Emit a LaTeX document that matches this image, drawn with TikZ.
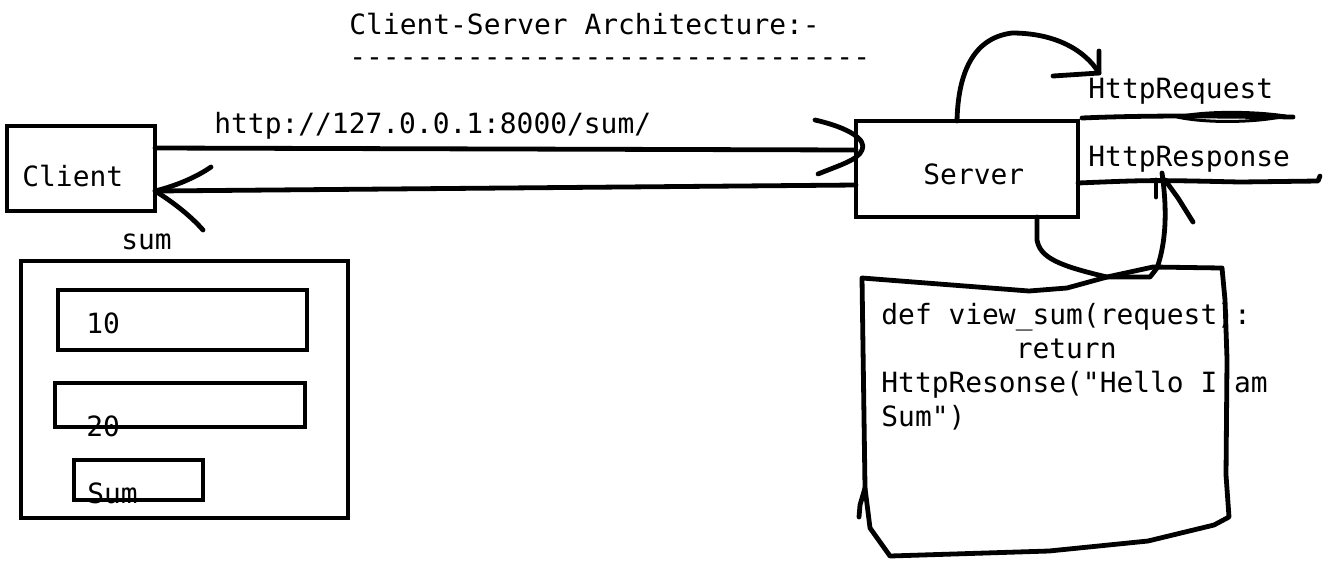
\documentclass[tikz,border=0pt]{standalone}
\usepackage{fontspec}
\setmonofont{DejaVu Sans Mono}
\usepackage{tikz}

\begin{document}
\begin{tikzpicture}[x=0.5pt,y=-0.5pt,line width=2.4pt,
  box/.style={draw,rectangle,inner sep=0pt,outer sep=0pt},
  txt/.style={font=\ttfamily\fontsize{13.95}{17}\selectfont,inner sep=0pt,anchor=base west},
  hand/.style={line cap=round,line join=round}]
\useasboundingbox (0,0) rectangle (1342,569);

% Title
\node[txt] (title) at (347,34) {Client-Server Architecture:-};
\node[txt] (rule) at (347,66) {-------------------------------};

% Client and server boxes
\node[box,minimum width=74pt,minimum height=42.5pt] (client) at (81,168.5) {};
\node[txt] (clientlbl) at (20,186) {Client};
\node[box,minimum width=111pt,minimum height=48pt] (server) at (967,169) {};
\node[txt] (serverlbl) at (921,184) {Server};

% Request
\node[txt] (url) at (212,133) {http://127.0.0.1:8000/sum/};
\draw[hand] ([yshift=10.25pt]client.east) -- ([yshift=9.5pt]server.west);
\draw[hand] (815,120) .. controls (850,128) and (867,140) .. (862,150) .. controls (858,160) and (840,165) .. (818,174);

% Response
\coordinate (backtip) at ([yshift=-11.25pt]client.east);
\draw[hand] ([yshift=-8pt]server.west) -- (backtip);
\draw[hand] (211,167) .. controls (195,178) and (175,186) .. (backtip) .. controls (170,200) and (190,215) .. (203,230);
\node[txt] (sumlbl) at (119,249) {sum};

% Form on the client
\draw (21,261) rectangle (348,518);
\draw (58,290) rectangle (307,350);
\node[txt] (num1) at (84,333) {10};
\draw (55,383) rectangle (305,427);
\node[txt] (num2) at (84,436) {20};
\draw (74,460) rectangle (203,500);
\node[txt] (sumbtn) at (85,503) {Sum};

% Loop to HttpRequest
\coordinate (reqtip) at (1099,73);
\draw[hand] ([xshift=-5pt]server.north) .. controls (958,75) and (972,38) .. (1012,33) .. controls (1055,33) and (1085,50) .. (reqtip);
\draw[hand] (1099,51) -- (reqtip) -- (1053,76);
\node[txt] (reqlbl) at (1086,98) {HttpRequest};
\draw[hand] (1082,118) .. controls (1150,115) and (1230,116) .. (1293,117);
\draw[hand,line width=1.5pt] (1177,117) .. controls (1210,110) and (1260,112) .. (1285,116) .. controls (1260,122) and (1210,124) .. (1177,117);

% HttpResponse
\node[txt] (resplbl) at (1086,166) {HttpResponse};
\draw[hand] ([yshift=-7pt]server.east) .. controls (1150,180) .. (1240,182) -- (1318,181) -- (1320,176);

% Loop from view to HttpResponse
\coordinate (resptip) at (1162,173);
\draw[hand] ([xshift=35pt]server.south) -- (1037,240) .. controls (1040,258) and (1060,266) .. (1107,277) -- (1150,277) -- (1157,268) .. controls (1165,245) and (1168,215) .. (resptip);
\draw[hand] (1156,180) -- (1156,197);
\draw[hand] (1165,180) -- (1178,198) -- (1193,222);

% View code
\node[txt] (code1) at (879,324) {def view\_sum(request):};
\node[txt] (code2) at (879,358) {\phantom{12345678}return};
\node[txt] (code3) at (879,392) {HttpResonse("Hello I am};
\node[txt] (code4) at (879,426) {Sum")};
\draw[hand] (862,278) -- (1029,291) -- (1067,288) -- (1107,277) -- (1153,267) -- (1222,268) -- (1225,300) -- (1227,359) -- (1226,475) -- (1229,517) -- (1214,525) -- (1148,541) -- (1049,551) -- (890,556) -- (870,528) -- (865,488) -- cycle;
\draw[hand] (865,488) -- (860,505) -- (859,517);

\end{tikzpicture}
\end{document}
